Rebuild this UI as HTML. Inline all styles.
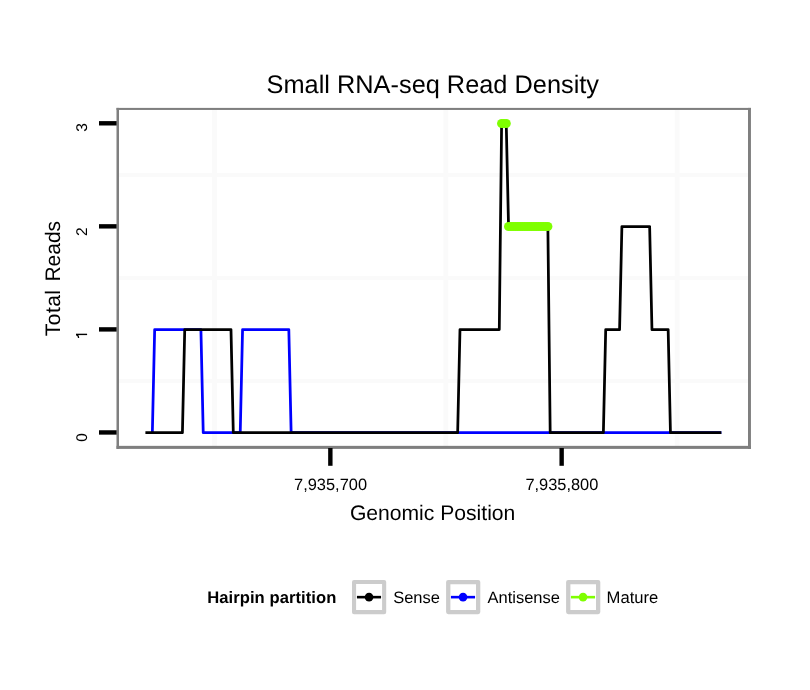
<!DOCTYPE html>
<html><head><meta charset="utf-8"><title>Small RNA-seq Read Density</title>
<style>
html,body{margin:0;padding:0;background:#fff;}
body{width:810px;height:690px;overflow:hidden;font-family:"Liberation Sans",sans-serif;}
svg{display:block;will-change:transform;}
text{font-family:"Liberation Sans",sans-serif;fill:#000;text-rendering:geometricPrecision;}
</style></head><body>
<svg width="810" height="690" viewBox="0 0 810 690">
<rect width="810" height="690" fill="#fff"/>
<g stroke="#fafafa" stroke-width="4"><line x1="214.5" y1="108.8" x2="214.5" y2="447.0" stroke-width="4.8"/><line x1="445.8" y1="108.8" x2="445.8" y2="447.0" stroke-width="4.8"/><line x1="677.1" y1="108.8" x2="677.1" y2="447.0" stroke-width="4.8"/><line x1="117.5" y1="381.12" x2="749.4" y2="381.12"/><line x1="117.5" y1="278.07" x2="749.4" y2="278.07"/><line x1="117.5" y1="175.02" x2="749.4" y2="175.02"/></g>
<polyline points="152.35,432.65 154.66,329.6 200.92,329.6 203.23,432.65 240.24,432.65 242.56,329.6 288.82,329.6 291.13,432.65 721.35,432.65" fill="none" stroke="#0000ff" stroke-width="2.75" stroke-linejoin="round"/>
<polyline points="145.41,432.65 182.42,432.65 184.73,329.6 230.99,329.6 233.3,432.65 457.66,432.65 459.98,329.6 499.3,329.6 501.61,123.5 506.24,123.5 508.55,226.55 547.87,226.55 550.18,432.65 603.38,432.65 605.7,329.6 619.58,329.6 621.89,226.55 649.64,226.55 651.96,329.6 668.15,329.6 670.46,432.65 721.35,432.65" fill="none" stroke="#000" stroke-width="2.75" stroke-linejoin="round"/>
<g fill="#7fff00"><circle cx="501.61" cy="123.5" r="4.55"/><circle cx="503.93" cy="123.5" r="4.55"/><circle cx="506.24" cy="123.5" r="4.55"/><circle cx="508.55" cy="226.55" r="4.55"/><circle cx="510.86" cy="226.55" r="4.55"/><circle cx="513.18" cy="226.55" r="4.55"/><circle cx="515.49" cy="226.55" r="4.55"/><circle cx="517.8" cy="226.55" r="4.55"/><circle cx="520.12" cy="226.55" r="4.55"/><circle cx="522.43" cy="226.55" r="4.55"/><circle cx="524.74" cy="226.55" r="4.55"/><circle cx="527.06" cy="226.55" r="4.55"/><circle cx="529.37" cy="226.55" r="4.55"/><circle cx="531.68" cy="226.55" r="4.55"/><circle cx="533.99" cy="226.55" r="4.55"/><circle cx="536.31" cy="226.55" r="4.55"/><circle cx="538.62" cy="226.55" r="4.55"/><circle cx="540.93" cy="226.55" r="4.55"/><circle cx="543.25" cy="226.55" r="4.55"/><circle cx="545.56" cy="226.55" r="4.55"/><circle cx="547.87" cy="226.55" r="4.55"/></g>
<g fill="#7f7f7f"><rect x="116.5" y="107.9" width="634.45" height="2.05"/><rect x="116.5" y="107.9" width="2.5" height="341"/><rect x="748" y="107.9" width="2.95" height="341"/><rect x="116.5" y="445.85" width="634.45" height="3.05"/></g>
<g stroke="#000" stroke-width="4.4"><line x1="99.0" y1="432.45" x2="116.6" y2="432.45"/><line x1="99.0" y1="329.40000000000003" x2="116.6" y2="329.40000000000003"/><line x1="99.0" y1="226.35000000000002" x2="116.6" y2="226.35000000000002"/><line x1="99.0" y1="123.3" x2="116.6" y2="123.3"/><line x1="330.34999999999997" y1="448.0" x2="330.34999999999997" y2="465.8"/><line x1="561.65" y1="448.0" x2="561.65" y2="465.8"/></g>
<text transform="translate(87.4,433.05) rotate(-90)" text-anchor="end" font-size="15.5">0</text><text transform="translate(87.4,227.35) rotate(-90)" text-anchor="end" font-size="15.5">2</text><text transform="translate(87.4,123.2) rotate(-90)" text-anchor="end" font-size="15.5">3</text><g fill="none" stroke="#000"><path d="M87.1,334.4H76.0" stroke-width="1.4"/><path d="M76.3,334.8C77.9,335 78.5,335.8 78.6,338" stroke-width="1.25"/></g>
<text x="330.55" y="489.9" text-anchor="middle" font-size="16.4">7,935,700</text><text x="561.85" y="489.9" text-anchor="middle" font-size="16.4">7,935,800</text>
<text x="432.8" y="93.3" text-anchor="middle" font-size="25.35">Small RNA-seq Read Density</text>
<text x="432.6" y="519.7" text-anchor="middle" font-size="21.12">Genomic Position</text>
<text transform="translate(59.7,336.2) rotate(-90)" text-anchor="start" font-size="21" letter-spacing="0.45">Total</text>
<text transform="translate(59.7,220.9) rotate(-90)" text-anchor="end" font-size="21">Reads</text>
<text x="207.2" y="603" font-size="16.6" font-weight="bold" letter-spacing="0.06">Hairpin partition</text>
<rect x="354.05" y="582.0" width="30.1" height="30.15" fill="#fff" stroke="#ccc" stroke-width="4.1" stroke-linejoin="round"/><line x1="356.95" y1="597.15" x2="381.05" y2="597.15" stroke="#000" stroke-width="2.6"/><circle cx="369.05" cy="597.15" r="4.3" fill="#000"/>
<text x="393.2" y="603" font-size="16.5">Sense</text>
<rect x="448.25" y="582.1" width="29.9" height="29.95" fill="#fff" stroke="#ccc" stroke-width="4.3" stroke-linejoin="round"/><line x1="450.95" y1="597.15" x2="475.05" y2="597.15" stroke="#0000ff" stroke-width="2.6"/><circle cx="463.05" cy="597.15" r="4.3" fill="#0000ff"/>
<text x="487.5" y="603" font-size="16.5">Antisense</text>
<rect x="568.25" y="582.1" width="29.9" height="29.95" fill="#fff" stroke="#ccc" stroke-width="4.3" stroke-linejoin="round"/><line x1="570.9499999999999" y1="597.15" x2="595.05" y2="597.15" stroke="#7fff00" stroke-width="2.6"/><circle cx="583.05" cy="597.15" r="4.3" fill="#7fff00"/>
<text x="606.6" y="603" font-size="16.6">Mature</text>
</svg>
</body></html>
